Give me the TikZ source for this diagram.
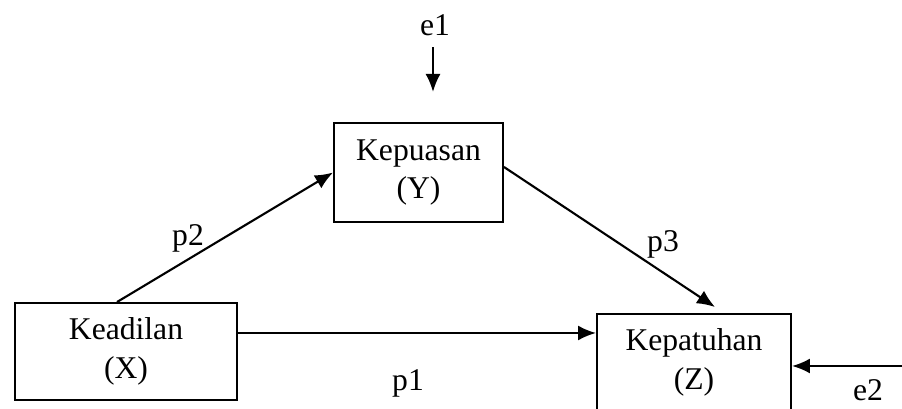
\documentclass[tikz,border=0pt]{standalone}
\usepackage{fontspec}
\setmainfont{Liberation Serif}
\usetikzlibrary{arrows.meta, positioning}

\begin{document}
\begin{tikzpicture}[
    box/.style={draw, line width=1.1pt, minimum width=#1, minimum height=1.94cm,
                inner sep=0pt, align=center, font=\fontsize{18}{22}\selectfont},
    box/.default=3cm,
    lbl/.style={inner sep=1pt, font=\fontsize{18}{22}\selectfont},
    arr/.style={-{Latex[length=0.36cm, width=0.3cm]}, line width=1.2pt}]
  \useasboundingbox (0,0) rectangle (18.04,8.18);

  % variables
  \node[box=4.44cm] (keadilan) at (2.52,1.15) {Keadilan\\(X)};
  \node[box=3.38cm, minimum height=1.98cm] (kepuasan) at (8.37,4.73) {Kepuasan\\(Y)};
  \node[box=3.88cm] (kepatuhan) at (13.88,0.93) {Kepatuhan\\(Z)};

  % path labels
  \node[lbl] (e1) at (8.70,7.68) {e1};
  \node[lbl] (e2) at (17.36,0.38) {e2};
  \node[lbl] (p1) at (8.16,0.52) {p1};
  \node[lbl] (p2) at (3.76,3.42) {p2};
  \node[lbl] (p3) at (13.26,3.30) {p3};

  \coordinate (e1tip) at (8.66,6.34);
  \coordinate (e2in) at (18.10,0.86);

  \draw[arr, shorten <=0.19cm] (e1.south -| e1tip) -- (e1tip);
  \draw[arr] (e2in) -- (e2in -| kepatuhan.east);
  \draw[arr] ([xshift=-0.18cm]keadilan.north) -- (kepuasan.west);
  \draw[arr] ([yshift=0.11cm]kepuasan.east)
        -- ([xshift=0.42cm, yshift=0.12cm]kepatuhan.north);
  \draw[arr] ([yshift=0.37cm]keadilan.east) -- ([yshift=0.59cm]kepatuhan.west);
\end{tikzpicture}
\end{document}
